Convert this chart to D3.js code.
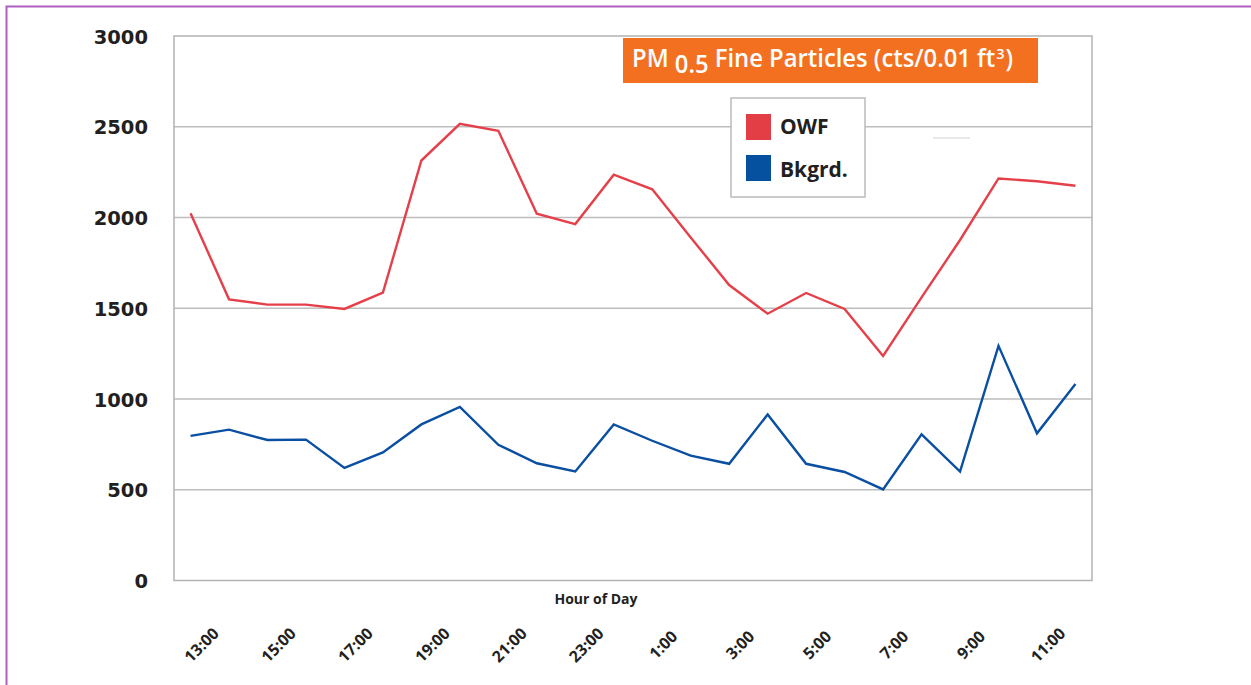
<!DOCTYPE html>
<html>
<head>
<meta charset="utf-8">
<script src="https://cdn.jsdelivr.net/npm/d3@7"></script>
<style>
  html, body { margin: 0; padding: 0; background: #fff; }
  svg { display: block; }
</style>
</head>
<body>
<svg id="chart" width="1251" height="685"></svg>
<script>
// ---- Data ----
const hours = ["13:00","14:00","15:00","16:00","17:00","18:00","19:00","20:00","21:00","22:00","23:00","0:00",
               "1:00","2:00","3:00","4:00","5:00","6:00","7:00","8:00","9:00","10:00","11:00","12:00"];
const owf   = [2024,1549,1520,1520,1496,1586,2314,2516,2478,2021,1964,2236,
               2155,1890,1628,1470,1584,1496,1237,1560,1876,2215,2200,2175];
const bkgrd = [797,831,774,776,620,706,860,956,748,646,601,860,
               770,688,643,915,643,598,502,805,600,1293,811,1083];
const yTicks = [0,500,1000,1500,2000,2500,3000];
const shownHours = ["13:00","15:00","17:00","19:00","21:00","23:00","1:00","3:00","5:00","7:00","9:00","11:00"];
const seriesNames = ["OWF","Bkgrd."];
const seriesColors = ["#e5404a","#0a4fa1"];
const legendColors = ["#e33e46","#0650a0"];

// ---- Layout ----
const svg = d3.select("#chart");
const plot = {left: 174, top: 36, right: 1092, bottom: 580.5};
const textColor = "#231f20";

// outer purple frame
svg.append("rect").attr("x", 6.5).attr("y", 6.5).attr("width", 1300).attr("height", 720)
  .attr("fill", "none").attr("stroke", "#b05fc0").attr("stroke-width", 2);

const x = d3.scalePoint().domain(hours).range([plot.left, plot.right]).padding(0.43);
const y = d3.scaleLinear().domain([0, 3000]).range([plot.bottom, plot.top]);

// gridlines
svg.append("g").selectAll("line").data(yTicks.filter(d => d > 0 && d < 3000)).join("line")
  .attr("x1", plot.left).attr("x2", plot.right)
  .attr("y1", d => y(d)).attr("y2", d => y(d))
  .attr("stroke", "#bdbdbd").attr("stroke-width", 1.5);

// plot frame
svg.append("rect").attr("x", plot.left).attr("y", y(3000))
  .attr("width", plot.right - plot.left).attr("height", y(0) - y(3000))
  .attr("fill", "none").attr("stroke", "#b3b3b3").attr("stroke-width", 1.5);

// y axis labels
const yAxis = d3.axisLeft(y).tickValues(yTicks).tickSize(0).tickPadding(0).tickFormat(d3.format("d"));
const gy = svg.append("g").attr("transform", `translate(148,0)`).call(yAxis);
gy.select(".domain").remove();
gy.selectAll("text")
  .attr("font-family", "DejaVu Sans, sans-serif").attr("font-weight", "bold")
  .attr("font-size", 19.5).attr("fill", textColor).attr("x", 0).attr("dy", "0.36em");

// x axis labels
const gx = svg.append("g");
gx.selectAll("text").data(shownHours).join("text")
  .attr("transform", d => `translate(${x(d) + 11},${645}) rotate(-45)`)
  .attr("text-anchor", "middle").attr("dy", "0.35em")
  .attr("font-family", "Open Sans, sans-serif").attr("font-weight", 700)
  .attr("font-size", 16).attr("fill", textColor)
  .text(d => d);

// x axis title
svg.append("text").attr("x", 596).attr("y", 604).attr("text-anchor", "middle")
  .attr("font-family", "Open Sans, sans-serif").attr("font-weight", 700)
  .attr("font-size", 14).attr("fill", textColor).text("Hour of Day");

// lines
const line = d3.line().x((d, i) => x(hours[i])).y(d => y(d));
[owf, bkgrd].forEach((s, k) => {
  svg.append("path").datum(s).attr("d", line)
    .attr("fill", "none").attr("stroke", seriesColors[k])
    .attr("stroke-width", 2.4).attr("stroke-linejoin", "miter");
});

// faint artifact line
svg.append("line").attr("x1", 933).attr("x2", 970).attr("y1", 138).attr("y2", 138)
  .attr("stroke", "#e8e8e8").attr("stroke-width", 2);

// title box
svg.append("rect").attr("x", 623).attr("y", 38).attr("width", 415).attr("height", 45).attr("fill", "#f37021");
const title = svg.append("text").attr("x", 632).attr("y", 67)
  .attr("font-family", "Open Sans, sans-serif").attr("font-weight", 600)
  .attr("font-size", 24.5).attr("fill", "#ffffff")
  .attr("textLength", 381).attr("lengthAdjust", "spacingAndGlyphs");
title.append("tspan").text("PM ");
title.append("tspan").attr("dy", 6).text("0.5");
title.append("tspan").attr("dy", -6).text(" Fine Particles (cts/0.01 ft");
title.append("tspan").attr("dy", -8).attr("dx", 1).attr("font-size", 15).text("3");
title.append("tspan").attr("dy", 8).attr("dx", 1).text(")");

// legend
const lg = svg.append("g");
lg.append("rect").attr("x", 731).attr("y", 98).attr("width", 134).attr("height", 99)
  .attr("fill", "#fff").attr("stroke", "#bbbbbb").attr("stroke-width", 1.5);
seriesNames.forEach((n, i) => {
  lg.append("rect").attr("x", 746).attr("y", 114 + i * 41).attr("width", 25).attr("height", 26)
    .attr("fill", legendColors[i]);
  lg.append("text").attr("x", 780).attr("y", 134 + i * 43)
    .attr("font-family", "Open Sans, sans-serif").attr("font-weight", 700)
    .attr("font-size", 21).attr("fill", textColor).text(n);
});
</script>
</body>
</html>
